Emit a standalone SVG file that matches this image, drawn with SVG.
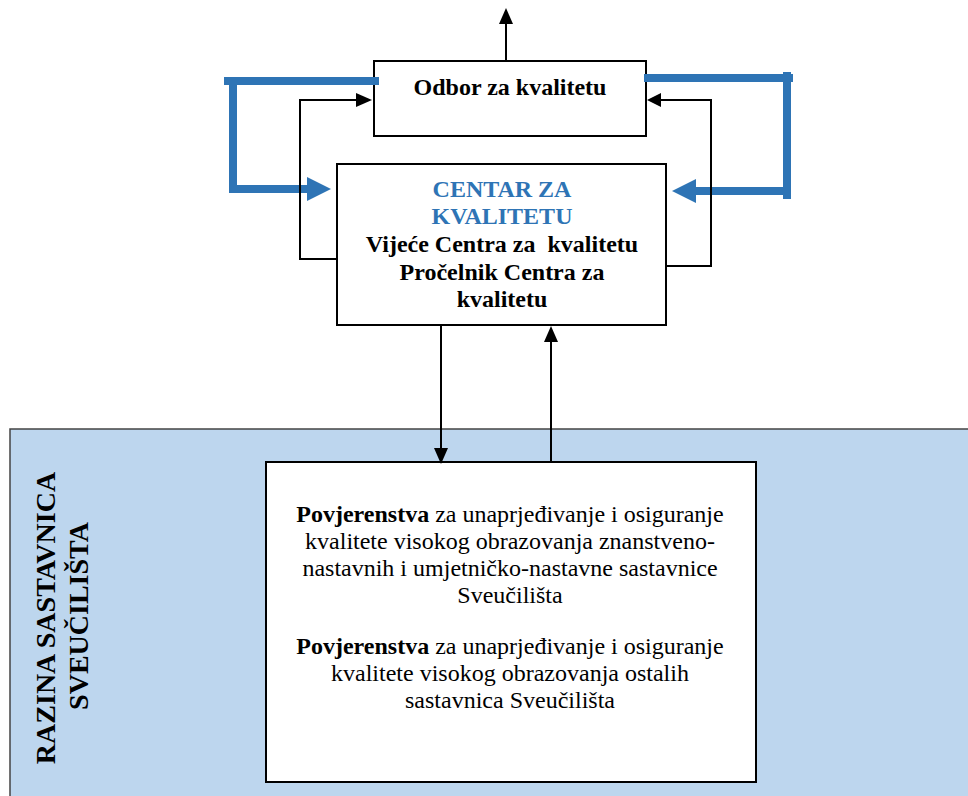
<svg xmlns="http://www.w3.org/2000/svg" width="968" height="796" viewBox="0 0 968 796">
<style>
.box{fill:#fff;stroke:#000;stroke-width:2}
.t{font-family:'Liberation Serif','Times New Roman',serif;font-size:24px;text-anchor:middle;fill:#000}
.b{font-weight:bold}
.v{font-size:28px}
.blue{fill:#2E74B5}
.ln{fill:none;stroke:#000;stroke-width:2}
.bl{fill:none;stroke:#2E74B5;stroke-width:8}
.ah{fill:#000}
.bah{fill:#2E74B5}
</style>
<rect x="10" y="429" width="965" height="372" fill="#BDD6EE" stroke="#444" stroke-width="1.5"/>
<g id="level-label">
<text class="t b v" transform="translate(55,618) rotate(-90)">RAZINA SASTAVNICA</text>
<text class="t b v" transform="translate(88,616) rotate(-90)">SVEUČILIŠTA</text>
</g>
<g id="odbor">
<rect class="box" x="374" y="61" width="272" height="75"/>
<text class="t b" x="510" y="95">Odbor za kvalitetu</text>
</g>
<g id="centar">
<rect class="box" x="337" y="164" width="329" height="161"/>
<text class="t b blue" x="502" y="197">CENTAR ZA</text>
<text class="t b blue" x="502" y="224">KVALITETU</text>
<text class="t b" x="502" y="252" xml:space="preserve">Vijeće Centra za  kvalitetu</text>
<text class="t b" x="502" y="280">Pročelnik Centra za</text>
<text class="t b" x="502" y="307">kvalitetu</text>
</g>
<g id="povjerenstva">
<rect class="box" x="266" y="462" width="490" height="320"/>
<text class="t" x="510" y="522"><tspan class="b">Povjerenstva</tspan> za unaprjeđivanje i osiguranje</text>
<text class="t" x="510" y="549">kvalitete visokog obrazovanja znanstveno-</text>
<text class="t" x="510" y="576">nastavnih i umjetničko-nastavne sastavnice</text>
<text class="t" x="510" y="603">Sveučilišta</text>
<text class="t" x="510" y="654"><tspan class="b">Povjerenstva</tspan> za unaprjeđivanje i osiguranje</text>
<text class="t" x="510" y="681">kvalitete visokog obrazovanja ostalih</text>
<text class="t" x="510" y="708">sastavnica Sveučilišta</text>
</g>
<g id="connectors">
<line class="ln" x1="506" y1="61" x2="506" y2="22"/>
<polygon class="ah" points="506,8 499,24 513,24"/>
<path class="bl" d="M224,81 H379 M233,77 V193 M229,189 H310"/>
<polygon class="bah" points="331,189 307,177 307,201"/>
<path class="bl" d="M644,78 H793 M787,72 V199 M791,191 H694"/>
<polygon class="bah" points="672,191 696,179 696,203"/>
<path class="ln" d="M337,259 H300 V100 H358"/>
<polygon class="ah" points="372,100 356,93 356,107"/>
<path class="ln" d="M666,266 H711 V100 H660"/>
<polygon class="ah" points="647,100 661,93 661,107"/>
<line class="ln" x1="441" y1="325" x2="441" y2="450"/>
<polygon class="ah" points="441,464 434,448 448,448"/>
<line class="ln" x1="551" y1="462" x2="551" y2="340"/>
<polygon class="ah" points="551,326 544,342 558,342"/>
</g>
</svg>
